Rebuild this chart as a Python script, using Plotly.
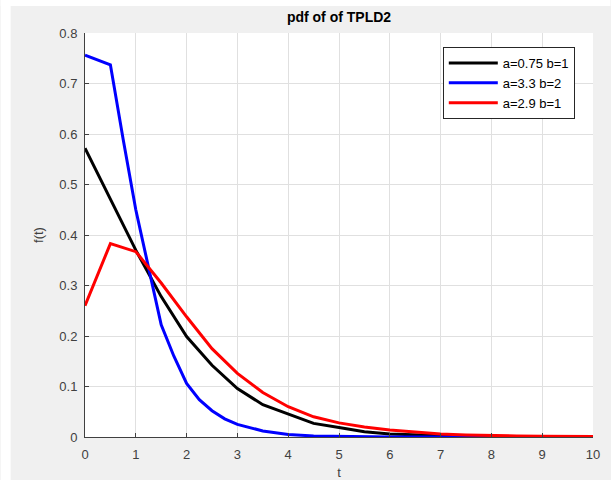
import plotly.graph_objects as go

t_black = [0, 0.5, 1, 1.5, 2, 2.5, 3, 3.5, 4, 4.5, 5, 5.5, 6, 6.5, 7, 7.5, 8, 8.5, 9, 9.5, 10]
v_black = [0.572, 0.472, 0.370, 0.278, 0.199, 0.142, 0.096, 0.064, 0.045, 0.027, 0.019,
           0.0105, 0.006, 0.004, 0.002, 0.001, 0.001, 0.0005, 0.0, 0.0, 0.0]

t_blue = [0, 0.5, 0.75, 1, 1.25, 1.5, 1.75, 2, 2.25, 2.5, 2.75, 3, 3.5, 4, 4.5, 5, 6, 7, 8, 9, 10]
v_blue = [0.756, 0.737, 0.59, 0.45, 0.336, 0.222, 0.16, 0.106, 0.074, 0.052, 0.036, 0.025,
          0.012, 0.005, 0.002, 0.001, 0.0, 0.0, 0.0, 0.0, 0.0]

t_red = [0, 0.5, 1, 1.5, 2, 2.5, 3, 3.5, 4, 4.5, 5, 5.5, 6, 6.5, 7, 7.5, 8, 8.5, 9, 9.5, 10]
v_red = [0.26, 0.383, 0.367, 0.305, 0.238, 0.175, 0.126, 0.088, 0.060, 0.040, 0.028,
         0.020, 0.014, 0.010, 0.006, 0.004, 0.0025, 0.002, 0.0015, 0.001, 0.001]

names = ["a=0.75 b=1", "a=3.3 b=2", "a=2.9 b=1"]
colors = ["#000000", "#0000ff", "#ff0000"]

x_ticks = list(range(0, 11))
y_ticks = [0, 0.1, 0.2, 0.3, 0.4, 0.5, 0.6, 0.7, 0.8]
y_tick_text = ["0", "0.1", "0.2", "0.3", "0.4", "0.5", "0.6", "0.7", "0.8"]

fig = go.Figure()
for tx, vy, nm, c in zip([t_black, t_blue, t_red], [v_black, v_blue, v_red], names, colors):
    fig.add_trace(go.Scatter(x=tx, y=vy, mode="lines", name=nm,
                             line=dict(color=c, width=3)))

L, R, T, B = 84.5, 17.5, 33, 43
W, H = 611, 480
pw, ph = W - L - R, H - T - B

def px(xp):
    return (xp - L) / pw

def py(yp):
    return (H - B - yp) / ph

font_main = "Liberation Sans, Arial, sans-serif"
fig.update_layout(
    width=W, height=H, autosize=False,
    margin=dict(l=L, r=R, t=T, b=B, pad=0, autoexpand=False),
    paper_bgcolor="#f0f0f0",
    plot_bgcolor="#ffffff",
    font=dict(family=font_main, size=13, color="#404040"),
    title=dict(text="<b>pdf of of TPLD2</b>", x=0.5, xref="paper", xanchor="center",
               y=1 - 17 / H, yanchor="middle", yref="container",
               font=dict(size=14, color="#000000", family=font_main)),
    showlegend=True,
    legend=dict(x=px(443), y=py(47), xanchor="left", yanchor="top",
                bgcolor="#ffffff", bordercolor="#262626", borderwidth=1,
                font=dict(size=13, color="#000000", family=font_main),
                itemwidth=49, tracegroupgap=0),
    shapes=[
        dict(type="rect", xref="paper", yref="paper", layer="below",
             x0=px(0), x1=px(10), y0=py(480), y1=py(0),
             fillcolor="#ffffff", line=dict(width=0)),
        dict(type="rect", xref="paper", yref="paper", layer="below",
             x0=px(0), x1=px(611), y0=py(6), y1=py(0),
             fillcolor="#ffffff", line=dict(width=0)),
    ],
)
fig.update_xaxes(range=[0, 10], tickvals=x_ticks, ticks="inside", ticklen=4,
                 tickcolor="#404040", showline=True, linecolor="#404040", linewidth=1,
                 showgrid=True, gridcolor="#e0e0e0", gridwidth=1, zeroline=False,
                 ticklabelstandoff=5, automargin=True,
                 title=dict(text="t", font=dict(size=13, color="#404040"), standoff=12),
                 mirror=False)
fig.update_yaxes(range=[0, 0.8], tickvals=y_ticks, ticktext=y_tick_text, ticks="inside",
                 ticklen=4, tickcolor="#404040", showline=True, linecolor="#404040",
                 linewidth=1, showgrid=True, gridcolor="#e0e0e0", gridwidth=1,
                 zeroline=False, ticklabelstandoff=4,
                 title=dict(text="f(t)", font=dict(size=13, color="#404040"), standoff=12),
                 mirror=False)

fig.write_html("out.html",
               config={"responsive": False, "displayModeBar": False},
               post_script="document.body.style.margin='0';")
